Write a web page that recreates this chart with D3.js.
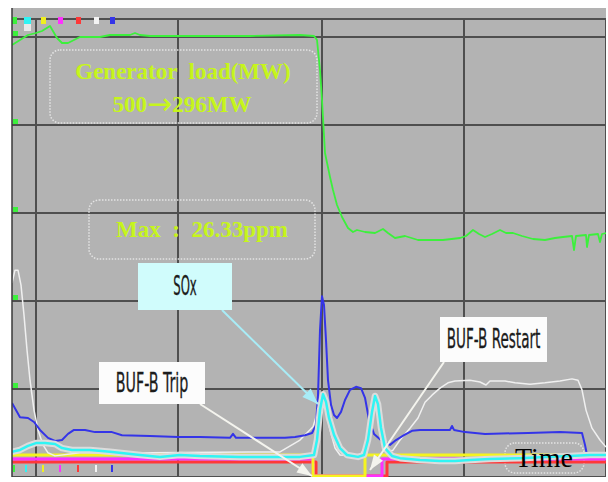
<!DOCTYPE html>
<html><head><meta charset="utf-8">
<script src="https://cdn.jsdelivr.net/npm/d3@7"></script>
<style>html,body{margin:0;padding:0;background:#fff}svg{display:block}</style>
</head><body><svg id="c" width="608" height="482"></svg>
<script>
// ---- DATA ----
// time axis: arbitrary time units (0..594 across the trend window)
const gridTimes = [24, 166, 310, 452, 594];
const gridPct = [0, 20, 40, 60, 80, 100];

// Generator load (MW)
const loadT  = [0,8,16,24,30,38,45,50,56,62,68,88,98,118,123,128,138,168,238,288,302,305,308,310,313,318,321,325,330,336,341,345,353,363,371,376,383,393,406,431,448,454,461,467,473,480,488,494,501,510,521,533,543,551,560,562,564,574,575,577,586,588,590,594];
const loadMW = [490,495,500,502,504,509,497,492,492,495,498,498,500,500,502,500,499,499,499,500,499,495,465,435,382,358,345,330,318,307,303,305,303,302,306,302,297,299,295,295,297,299,305,301,298,301,305,302,302,299,296,295,297,298,299,285,299,300,288,300,301,293,301,302];

// SOx (ppm)
const soxT   = [0,8,16,24,33,43,50,60,78,98,128,148,168,188,228,288,302,305,308,311,314,317,322,328,335,346,352,356,360,363,366,369,373,380,388,408,428,443,458,478,508,533,558,578,594];
const soxPpm = [8.0,8.6,9.9,10.8,10.8,10.5,9.2,8.6,8.6,8.0,7.0,6.4,7.0,6.7,6.4,6.4,7.0,11.8,21.3,26.33,23.9,18.8,13.4,9.2,7.0,6.4,7.0,11.8,20.7,25.8,23.2,15.6,9.2,6.7,6.0,5.4,5.1,5.1,5.4,5.7,6.0,6.4,6.7,7.0,7.0];

// Blue pen (% of span)
const blueT   = [0,8,16,22,28,36,43,50,56,62,73,83,100,110,138,166,188,218,221,224,248,273,283,293,300,304,306,308,310,312,314,316,319,322,325,329,333,338,344,349,353,357,362,370,378,384,392,400,408,438,440,442,453,473,516,548,570,573,575];
const bluePct = [16.8,13.6,13.4,12.5,10.7,8.9,8.2,8.4,9.8,10.7,10.7,10.2,10.2,9.5,9.3,9.1,9.1,8.9,9.8,8.9,8.9,8.9,9.1,9.5,10.0,11.8,18.6,33.4,41.1,39.1,31.1,22.0,16.4,14.1,13.4,14.8,17.5,19.8,20.5,20.2,18.0,13.0,9.8,8.2,7.3,8.4,9.5,10.5,10.7,10.7,11.6,10.7,10.2,9.8,10.0,10.2,10.0,7.3,5.0];

// White pen (% of span)
const whiteT   = [0,3,6,9,12,15,18,22,26,31,36,43,68,138,238,268,288,301,306,310,314,318,323,328,348,354,359,363,367,371,375,381,388,398,406,413,420,428,436,443,458,468,474,478,493,503,518,533,548,560,566,570,574,580,588,594];
const whitePct = [44.1,47.0,47.0,43.6,36.8,28.9,22.0,15.2,10.7,7.3,5.5,4.8,5.5,5.5,5.7,5.7,8.4,11.4,15.2,18.0,15.2,10.7,6.6,5.0,4.8,7.3,15.2,18.0,14.1,8.4,5.7,6.1,8.4,11.1,13.4,17.0,18.6,20.2,21.4,21.8,22.0,21.6,20.9,21.8,21.8,21.4,21.1,21.4,21.8,22.3,22.0,19.8,15.2,11.1,8.4,6.8];

// Status pens (% of span)
const yellowT = [0,301,301,353,353,594];
const yellowPct = [5.0,5.0,0.2,0.2,5.0,5.0];
const magentaT = [0,301,301,370,370,594];
const magentaPct = [4.1,4.1,0.2,0.2,4.1,4.1];
const redT = [0,304,304,375,375,594];
const redPct = [3.4,3.4,0.2,0.2,3.4,3.4];

// Text
const loadTitle = "Generator  load(MW)";
const loadFrom = "500", loadArrow = "\u2192", loadTo = "296MW";
const maxText = "Max  :  26.33ppm";
const soxLabel = "SOx";
const tripLabel = "BUF-B Trip";
const restartLabel = "BUF-B Restart";
const timeLabel = "Time";

const penColors = ["#3cf03c","#30f4f4","#f0f020","#ff30ff","#ff3838","#f4f4f4","#3434e8"];

// ---- DRAW ----
const svg = d3.select('#c');
const L=12, R=606, T=8, B=477;
const x = d3.scaleLinear().domain([0,594]).range([L,R]);
const yPct = d3.scaleLinear().domain([0,100]).range([B,37]);
const ySox = d3.scaleLinear().domain([0,140]).range([B,37]);
const yLoad = d3.scaleLinear().domain([300,500]).range([235,35]);

svg.append('defs').append('clipPath').attr('id','pc')
  .append('rect').attr('x',L).attr('y',T).attr('width',R-L).attr('height',B-T);

svg.append('rect').attr('x',L).attr('y',T).attr('width',R-L).attr('height',B-T).attr('fill','#b3b3b3');

const g = svg.append('g').attr('clip-path','url(#pc)');
const gridC = '#4f4f4f';
g.append('line').attr('x1',L).attr('x2',R).attr('y1',19).attr('y2',19).attr('stroke',gridC).attr('stroke-width',2);
g.selectAll('.hg').data(gridPct).enter().append('line')
  .attr('x1',L).attr('x2',R).attr('y1',d=>yPct(d)).attr('y2',d=>yPct(d))
  .attr('stroke',gridC).attr('stroke-width',2);
g.selectAll('.vg').data(gridTimes).enter().append('line')
  .attr('x1',d=>x(d)).attr('x2',d=>x(d)).attr('y1',19).attr('y2',B)
  .attr('stroke',gridC).attr('stroke-width',2);
svg.append('line').attr('x1',L).attr('x2',L).attr('y1',T).attr('y2',B).attr('stroke','#3a3a3a').attr('stroke-width',1.5);

// small green scale marks
g.selectAll('.gm').data(gridPct.slice(1)).enter().append('rect')
  .attr('x',13).attr('y',d=>yPct(d)-6).attr('width',5).attr('height',5).attr('fill','#3cf03c');

// legend markers top & bottom
const legX = [12,24,41,58,76,94,110];
g.selectAll('.lt').data(penColors).enter().append('rect')
  .attr('x',(d,i)=>legX[i]).attr('y',17).attr('width',(d,i)=>i==1?7:5).attr('height',7).attr('fill',d=>d);
g.append('rect').attr('x',24).attr('y',24).attr('width',7).attr('height',7).attr('fill','#e8e8e8');
g.selectAll('.lb').data(penColors).enter().append('rect')
  .attr('x',(d,i)=>legX[i]+1).attr('y',465).attr('width',2).attr('height',7).attr('fill',d=>d);

// dotted annotation boxes
const dotted = (x0,y0,w,h)=>g.append('rect').attr('x',x0).attr('y',y0).attr('width',w).attr('height',h)
  .attr('rx',10).attr('fill','none').attr('stroke','#e4e4e4').attr('stroke-width',1.5).attr('stroke-dasharray','1.5,1.5');
dotted(50,50,267,73);
dotted(89,200,226,59);
dotted(505,443,79,30);

function series(ts, vs, ys, color, w){
  const data = ts.map((t,i)=>({t, v: vs[i]}));
  return g.append('path').datum(data)
    .attr('d', d3.line().x(d=>x(d.t)).y(d=>ys(d.v)))
    .attr('fill','none').attr('stroke',color).attr('stroke-width',w).attr('stroke-linejoin','round');
}

series(loadT, loadMW, yLoad, '#3cf03c', 1.8);
series(redT, redPct, yPct, '#ff3838', 3);
series(magentaT, magentaPct, yPct, '#ff30ff', 3);
series(yellowT, yellowPct, yPct, '#f4f420', 3);
series(whiteT, whitePct, yPct, '#f0f0f0', 1.5);
series(blueT, bluePct, yPct, '#3434e8', 2);
series(soxT, soxPpm, ySox, '#dcdcdc', 6.5);
series(soxT, soxPpm, ySox, '#30f4f4', 2.5);

// texts
const yg = '#c6f51c';
const serif = 'Liberation Serif, Times New Roman, serif';
svg.append('text').attr('x',183).attr('y',79).attr('text-anchor','middle')
  .attr('font-family',serif).attr('font-weight','bold')
  .attr('font-size',23).attr('fill',yg).style('white-space','pre').text(loadTitle);
const t2 = svg.append('text').attr('x',182).attr('y',112).attr('text-anchor','middle')
  .attr('font-family',serif).attr('font-weight','bold').attr('font-size',23).attr('fill',yg);
t2.append('tspan').text(loadFrom);
t2.append('tspan').attr('font-family','DejaVu Sans, sans-serif').attr('font-weight','normal').attr('font-size',30).attr('dy',2).text(loadArrow);
t2.append('tspan').attr('dy',-2).text(loadTo);
svg.append('text').attr('x',202).attr('y',237).attr('text-anchor','middle')
  .attr('font-family',serif).attr('font-weight','bold')
  .attr('font-size',23).attr('fill',yg).style('white-space','pre').text(maxText);
svg.append('text').attr('x',544).attr('y',467).attr('text-anchor','middle')
  .attr('font-family',serif)
  .attr('font-size',28).attr('fill','#000').text(timeLabel);

// leader lines with arrows
function leader(x1,y1,x2,y2,color,len,wid){
  svg.append('line').attr('x1',x1).attr('y1',y1).attr('x2',x2).attr('y2',y2)
    .attr('stroke',color).attr('stroke-width',2);
  const a = Math.atan2(y2-y1,x2-x1);
  const bx = x2-len*Math.cos(a), by = y2-len*Math.sin(a);
  const px = -Math.sin(a)*wid/2, py = Math.cos(a)*wid/2;
  svg.append('polygon').attr('points',[[x2,y2],[bx+px,by+py],[bx-px,by-py]].map(p=>p.join(',')).join(' '))
    .attr('fill',color);
}
leader(222,310,318,404,'#a8ecf6',16,12);
leader(200,404,312,476,'#f4f4ee',15,11);
leader(444,362,370,470,'#f4f4ee',15,11);

// label boxes
const condensed = 'Liberation Sans Narrow, DejaVu Sans Condensed, Arial Narrow, sans-serif';
function box(x0,y0,w,h,fill,label,sx){
  svg.append('rect').attr('x',x0).attr('y',y0).attr('width',w).attr('height',h).attr('fill',fill);
  const cx = x0+w/2;
  svg.append('text').attr('x',cx).attr('y',y0+h/2+9).attr('text-anchor','middle')
    .attr('font-family',condensed).attr('font-size',26).attr('fill','#1c1c1c')
    .attr('stroke','#1c1c1c').attr('stroke-width',0.3)
    .attr('transform',`translate(${cx},0) scale(${sx},1) translate(${-cx},0)`)
    .text(label);
}
box(138,263,94,47,'#d0fcfc',soxLabel,0.5);
box(99,362,106,42,'#fcfcfc',tripLabel,0.61);
box(440,317,107,45,'#fcfcfc',restartLabel,0.58);
</script></body></html>
